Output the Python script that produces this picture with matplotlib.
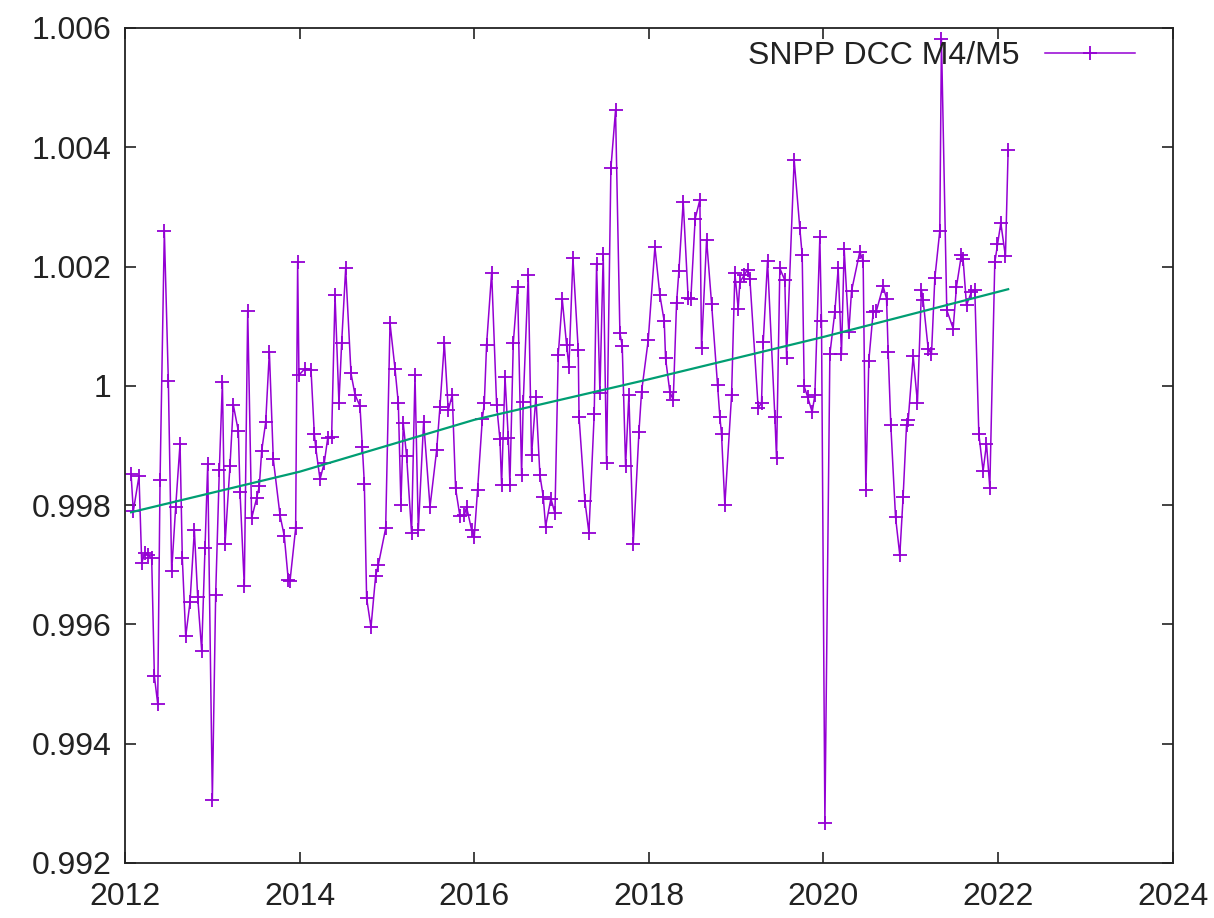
import matplotlib
matplotlib.use("Agg")
import matplotlib.pyplot as plt
from matplotlib.ticker import MultipleLocator, FormatStrFormatter

plt.rcParams["font.family"] = ["Liberation Sans", "DejaVu Sans"]

# SNPP DCC M4/M5 ratio, decimal year vs ratio
years = [
    2012.069, 2012.095, 2012.160, 2012.191, 2012.229, 2012.267, 2012.305, 2012.336, 2012.374, 2012.401,
    2012.450, 2012.496, 2012.534, 2012.580, 2012.630, 2012.656, 2012.695, 2012.744, 2012.794, 2012.832,
    2012.878, 2012.916, 2012.947, 2013.000, 2013.038, 2013.080, 2013.115, 2013.145, 2013.202, 2013.240,
    2013.298, 2013.317, 2013.366, 2013.405, 2013.450, 2013.508, 2013.538, 2013.565, 2013.611, 2013.653,
    2013.698, 2013.775, 2013.824, 2013.870, 2013.889, 2013.954, 2013.977, 2013.992, 2014.061, 2014.130,
    2014.168, 2014.183, 2014.233, 2014.282, 2014.321, 2014.366, 2014.405, 2014.450, 2014.481, 2014.527,
    2014.588, 2014.634, 2014.691, 2014.718, 2014.741, 2014.767, 2014.817, 2014.870, 2014.900, 2014.985,
    2015.035, 2015.092, 2015.130, 2015.160, 2015.187, 2015.225, 2015.282, 2015.321, 2015.359, 2015.420,
    2015.493, 2015.569, 2015.607, 2015.657, 2015.702, 2015.748, 2015.786, 2015.836, 2015.886, 2015.912,
    2015.970, 2016.000, 2016.038, 2016.092, 2016.115, 2016.141, 2016.199, 2016.256, 2016.294, 2016.313,
    2016.352, 2016.390, 2016.408, 2016.447, 2016.496, 2016.542, 2016.561, 2016.618, 2016.656, 2016.706,
    2016.752, 2016.790, 2016.817, 2016.878, 2016.924, 2016.962, 2017.008, 2017.057, 2017.084, 2017.130,
    2017.191, 2017.200, 2017.267, 2017.313, 2017.374, 2017.401, 2017.439, 2017.477, 2017.515, 2017.565,
    2017.618, 2017.668, 2017.695, 2017.733, 2017.771, 2017.821, 2017.886, 2017.916, 2017.992, 2018.069,
    2018.126, 2018.176, 2018.191, 2018.240, 2018.279, 2018.317, 2018.344, 2018.393, 2018.450, 2018.480,
    2018.530, 2018.584, 2018.603, 2018.661, 2018.718, 2018.786, 2018.813, 2018.832, 2018.870, 2018.947,
    2018.985, 2019.023, 2019.042, 2019.090, 2019.130, 2019.157, 2019.252, 2019.290, 2019.310, 2019.359,
    2019.443, 2019.462, 2019.500, 2019.557, 2019.577, 2019.664, 2019.729, 2019.756, 2019.779, 2019.817,
    2019.870, 2019.901, 2019.958, 2019.977, 2020.016, 2020.073, 2020.130, 2020.168, 2020.206, 2020.237,
    2020.290, 2020.321, 2020.416, 2020.454, 2020.485, 2020.519, 2020.569, 2020.607, 2020.683, 2020.722,
    2020.741, 2020.771, 2020.825, 2020.874, 2020.912, 2020.951, 2020.970, 2021.027, 2021.076, 2021.122,
    2021.141, 2021.199, 2021.237, 2021.275, 2021.332, 2021.351, 2021.412, 2021.485, 2021.523, 2021.580,
    2021.599, 2021.638, 2021.695, 2021.733, 2021.779, 2021.828, 2021.867, 2021.905, 2021.962, 2021.993,
    2022.031, 2022.084, 2022.115,
]
ratio = [
    0.99852, 0.99790, 0.99849, 0.99703, 0.99720, 0.99716, 0.99711, 0.99513, 0.99467, 0.99842,
    1.00260, 1.00008, 0.99689, 0.99797, 0.99903, 0.99711, 0.99580, 0.99637, 0.99758, 0.99646,
    0.99556, 0.99728, 0.99869, 0.99306, 0.99650, 0.99859, 1.00006, 0.99734, 0.99866, 0.99968,
    0.99924, 0.99822, 0.99664, 1.00126, 0.99778, 0.99812, 0.99832, 0.99891, 0.99939, 1.00057,
    0.99877, 0.99783, 0.99748, 0.99674, 0.99672, 0.99761, 1.00207, 1.00018, 1.00029, 1.00027,
    0.99919, 0.99898, 0.99843, 0.99871, 0.99912, 0.99914, 1.00152, 0.99971, 1.00072, 1.00197,
    1.00021, 0.99985, 0.99966, 0.99898, 0.99836, 0.99644, 0.99595, 0.99681, 0.99699, 0.99761,
    1.00105, 1.00029, 0.99971, 0.99800, 0.99937, 0.99882, 0.99753, 1.00018, 0.99758, 0.99940,
    0.99797, 0.99892, 0.99965, 1.00072, 0.99959, 0.99985, 0.99828, 0.99781, 0.99783, 0.99797,
    0.99758, 0.99747, 0.99826, 0.99944, 0.99971, 1.00069, 1.00190, 0.99968, 0.99910, 0.99834,
    1.00015, 0.99912, 0.99834, 1.00072, 1.00166, 0.99850, 0.99973, 1.00186, 0.99884, 0.99982,
    0.99850, 0.99814, 0.99764, 0.99811, 0.99786, 1.00052, 1.00145, 1.00069, 1.00032, 1.00214,
    1.00060, 0.99948, 0.99807, 0.99754, 0.99953, 1.00205, 0.99988, 1.00221, 0.99870, 1.00365,
    1.00462, 1.00089, 1.00066, 0.99866, 0.99985, 0.99735, 0.99922, 0.99990, 1.00076, 1.00233,
    1.00152, 1.00108, 1.00046, 0.99990, 0.99976, 1.00139, 1.00193, 1.00309, 1.00147, 1.00145,
    1.00280, 1.00312, 1.00063, 1.00245, 1.00138, 1.00001, 0.99948, 0.99919, 0.99800, 0.99984,
    1.00189, 1.00129, 1.00174, 1.00185, 1.00195, 1.00179, 0.99963, 0.99971, 1.00074, 1.00209,
    0.99948, 0.99879, 1.00197, 1.00177, 1.00047, 1.00379, 1.00264, 1.00219, 0.99999, 0.99982,
    0.99956, 0.99984, 1.00249, 1.00109, 0.99267, 1.00053, 1.00124, 1.00197, 1.00054, 1.00229,
    1.00090, 1.00159, 1.00225, 1.00209, 0.99825, 1.00042, 1.00124, 1.00126, 1.00167, 1.00146,
    1.00056, 0.99934, 0.99780, 0.99716, 0.99814, 0.99934, 0.99942, 1.00050, 0.99972, 1.00161,
    1.00144, 1.00062, 1.00053, 1.00180, 1.00260, 1.00582, 1.00127, 1.00096, 1.00166, 1.00220,
    1.00212, 1.00135, 1.00158, 1.00161, 0.99920, 0.99857, 0.99903, 0.99829, 1.00207, 1.00237,
    1.00273, 1.00217, 1.00396,
]

# trend line (green), read at a few points
trend_years = [2012.069, 2014.0, 2016.0, 2018.0, 2020.0, 2022.115]
trend_vals = [0.99788, 0.99856, 0.99943, 1.00011, 1.00082, 1.00162]

fig = plt.figure(figsize=(12.14, 9.18), dpi=100)
ax = fig.add_axes([0.103, 0.060, 0.863, 0.9095])

ax.plot(years, ratio, color="#9400d3", lw=1.1, marker="+", markersize=10,
        markeredgewidth=1.3, label="SNPP DCC M4/M5")
ax.plot(trend_years, trend_vals, color="#009e73", lw=1.6)

ax.set_xlim(2012, 2024)
ax.set_ylim(0.992, 1.006)
ax.xaxis.set_major_locator(MultipleLocator(2))
ax.xaxis.set_major_formatter(FormatStrFormatter("%d"))
ax.set_yticks([0.992, 0.994, 0.996, 0.998, 1.0, 1.002, 1.004, 1.006])
ax.set_yticklabels(["0.992", "0.994", "0.996", "0.998", "1", "1.002", "1.004", "1.006"])

ax.tick_params(direction="in", length=8, width=1.2, top=True, right=True,
               labelsize=23, colors="#222222")
ax.tick_params(axis="x", pad=14)
ax.tick_params(axis="y", pad=10)
for s in ax.spines.values():
    s.set_linewidth(1.3)
    s.set_color("#222222")

leg = ax.legend(loc="upper right", frameon=False, markerfirst=False, numpoints=1,
                fontsize=23, handlelength=2.8, handletextpad=0.8,
                bbox_to_anchor=(0.976, 1.0), borderaxespad=0.0)
for t in leg.get_texts():
    t.set_color("#222222")

fig.savefig("out.png", dpi=100)
